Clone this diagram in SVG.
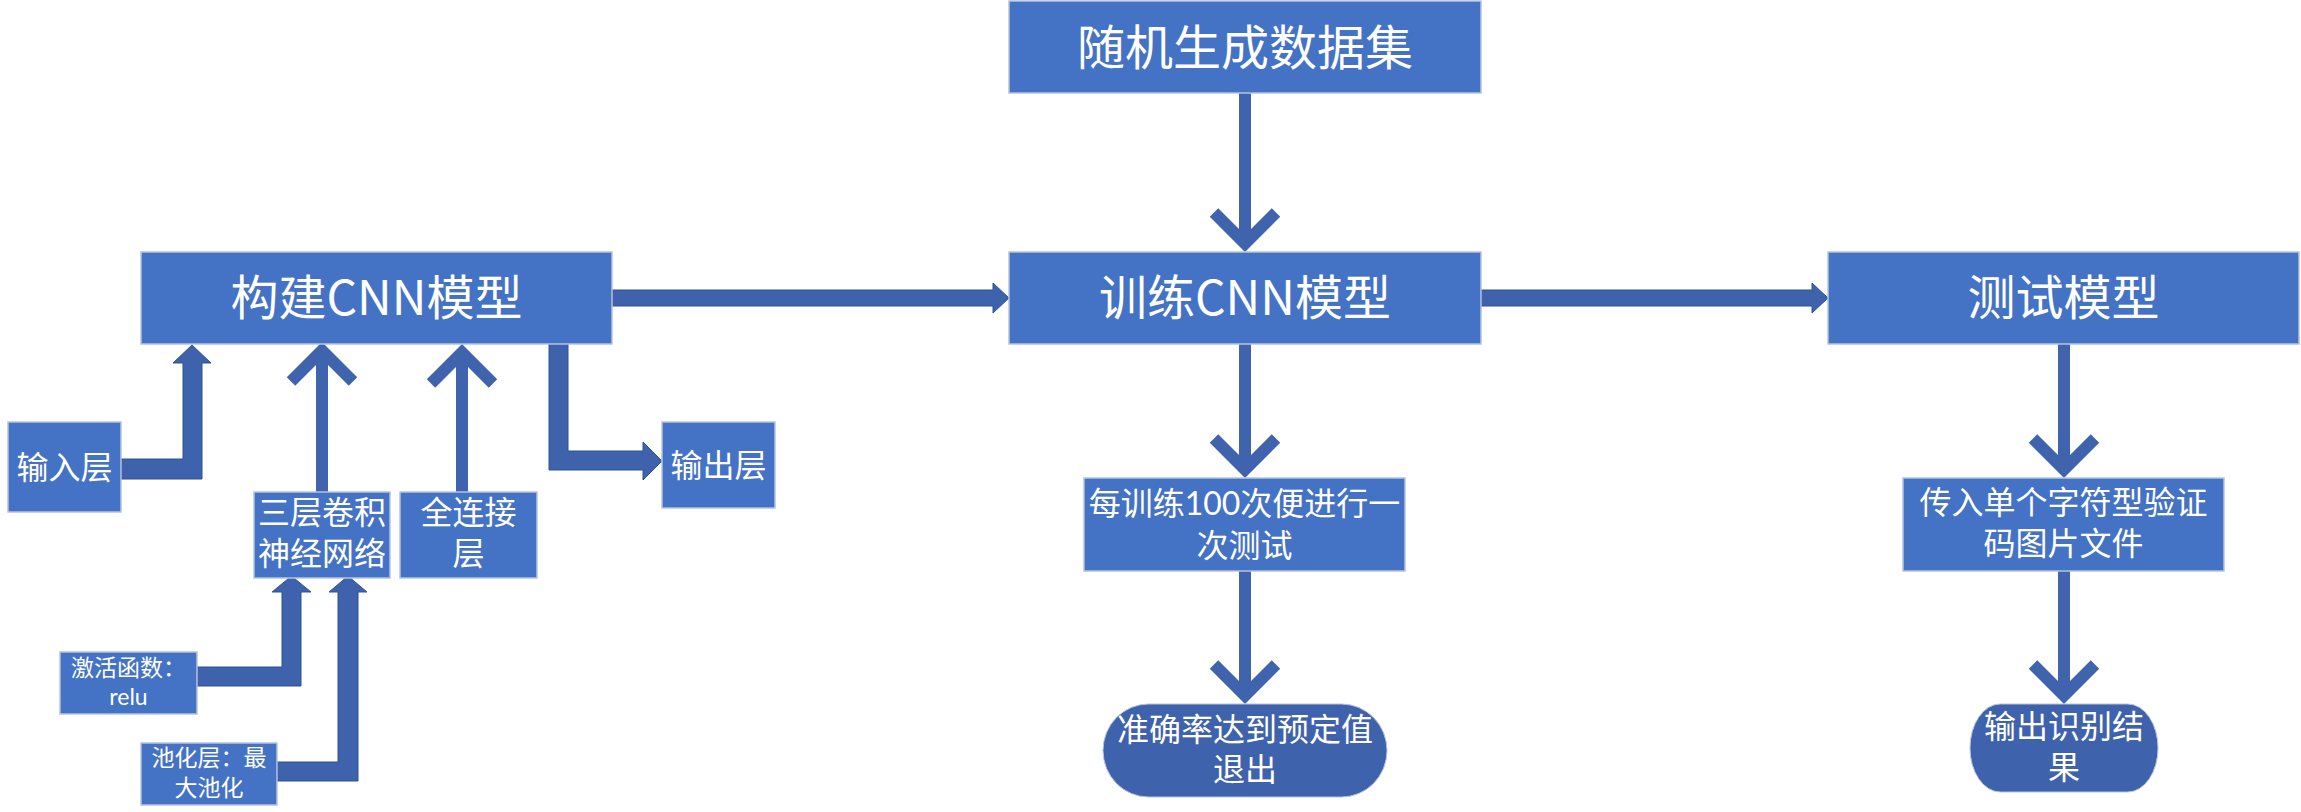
<svg xmlns="http://www.w3.org/2000/svg" width="2301" height="812" viewBox="0 0 2301 812">
  <style>
    .box { fill: #4472C4; stroke: #B7C3DD; stroke-width: 1.5; }
    .term { fill: #3F62AD; stroke: #B7C3DD; stroke-width: 1; }
    .t { font-family: "Noto Sans CJK SC", "Noto Sans", sans-serif; fill: #FFFFFF; text-anchor: middle; }
    .ml { font-family: Lato, "Noto Sans CJK SC", sans-serif; fill: #FFFFFF; text-anchor: middle; }
    .big { font-size: 48px; }
    .mid { font-size: 32px; }
    .sm { font-size: 23px; }
    .line { fill: none; stroke: #3F64AD; stroke-width: 12; }
    .block { fill: #3F62AC; stroke: #2F528F; stroke-width: 1; }
  </style>
  <defs>
    <marker id="open" viewBox="-45 -45 90 90" markerWidth="90" markerHeight="90" refX="0" refY="0" markerUnits="userSpaceOnUse" orient="auto" overflow="visible">
      <path d="M -31 -31 L 0 0 L -31 31" fill="none" stroke="#3F64AD" stroke-width="12" stroke-linejoin="miter"/>
    </marker>
  </defs>

  <g id="connectors">
    <line class="line" x1="1245" y1="93" x2="1245" y2="243.5" marker-end="url(#open)"/>
    <line class="line" x1="1245" y1="344" x2="1245" y2="469.5" marker-end="url(#open)"/>
    <line class="line" x1="1245" y1="571" x2="1245" y2="695.5" marker-end="url(#open)"/>
    <line class="line" x1="2064" y1="344" x2="2064" y2="469.5" marker-end="url(#open)"/>
    <line class="line" x1="2064" y1="571" x2="2064" y2="695.5" marker-end="url(#open)"/>
    <line class="line" x1="322" y1="492" x2="322" y2="350.5" marker-end="url(#open)"/>
    <line class="line" x1="462" y1="492" x2="462" y2="352.5" marker-end="url(#open)"/>
    <path class="block" d="M612 290 L993 290 L993 283 L1009 298 L993 313 L993 306 L612 306 Z"/>
    <path class="block" d="M1481 290 L1812 290 L1812 283 L1828 298 L1812 313 L1812 306 L1481 306 Z"/>
    <path class="block" d="M121 459 L183 459 L183 363 L173 363 L192 345 L211 363 L202 363 L202 479 L121 479 Z"/>
    <path class="block" d="M549 344 L568 344 L568 451 L643 451 L643 442 L662 461 L643 480 L643 470 L549 470 Z"/>
    <path class="block" d="M197 667 L282 667 L282 592 L272 592 L291.5 576 L311 592 L301 592 L301 686 L197 686 Z"/>
    <path class="block" d="M277 762 L338 762 L338 592 L329 592 L348 576 L367 592 L358 592 L358 781 L277 781 Z"/>
  </g>

  <g id="n-dataset">
    <rect class="box" x="1009" y="1" width="472" height="92"/>
    <text class="t big" x="1245" y="65">随机生成数据集</text>
  </g>
  <g id="n-build">
    <rect class="box" x="141" y="252" width="471" height="92"/>
    <text class="t big" x="376.5" y="315">构建CNN模型</text>
  </g>
  <g id="n-train">
    <rect class="box" x="1009" y="252" width="472" height="92"/>
    <text class="t big" x="1245" y="315">训练CNN模型</text>
  </g>
  <g id="n-test">
    <rect class="box" x="1828" y="252" width="471" height="92"/>
    <text class="t big" x="2063.5" y="315">测试模型</text>
  </g>
  <g id="n-input">
    <rect class="box" x="8" y="422" width="113" height="90"/>
    <text class="t mid" x="64.5" y="479">输入层</text>
  </g>
  <g id="n-output">
    <rect class="box" x="662" y="422" width="113" height="86"/>
    <text class="t mid" x="718.5" y="477">输出层</text>
  </g>
  <g id="n-conv">
    <rect class="box" x="254" y="492" width="136" height="86"/>
    <text class="ml mid"><tspan x="322" y="524">三层卷积</tspan><tspan x="322" y="565">神经网络</tspan></text>
  </g>
  <g id="n-fc">
    <rect class="box" x="400" y="492" width="137" height="86"/>
    <text class="ml mid"><tspan x="468.5" y="524">全连接</tspan><tspan x="468.5" y="565">层</tspan></text>
  </g>
  <g id="n-relu">
    <rect class="box" x="60" y="652" width="137" height="62"/>
    <text class="ml sm"><tspan x="128.5" y="676">激活函数：</tspan><tspan x="128.5" y="705">relu</tspan></text>
  </g>
  <g id="n-pool">
    <rect class="box" x="141" y="743" width="136" height="62"/>
    <text class="ml sm"><tspan x="209" y="766">池化层：最</tspan><tspan x="209" y="796">大池化</tspan></text>
  </g>
  <g id="n-every">
    <rect class="box" x="1084" y="478" width="321" height="93"/>
    <text class="ml mid"><tspan x="1244.5" y="515">每训练100次便进行一</tspan><tspan x="1244.5" y="557">次测试</tspan></text>
  </g>
  <g id="n-exit">
    <rect class="term" x="1103" y="704" width="284" height="93" rx="45.7" ry="46.5"/>
    <text class="ml mid"><tspan x="1245" y="741">准确率达到预定值</tspan><tspan x="1245" y="781">退出</tspan></text>
  </g>
  <g id="n-single">
    <rect class="box" x="1903" y="478" width="321" height="93"/>
    <text class="ml mid"><tspan x="2063.5" y="514">传入单个字符型验证</tspan><tspan x="2063.5" y="555">码图片文件</tspan></text>
  </g>
  <g id="n-result">
    <rect class="term" x="1970" y="704" width="188" height="88" rx="30.3" ry="44"/>
    <text class="ml mid"><tspan x="2064" y="738">输出识别结</tspan><tspan x="2064" y="779">果</tspan></text>
  </g>
</svg>
